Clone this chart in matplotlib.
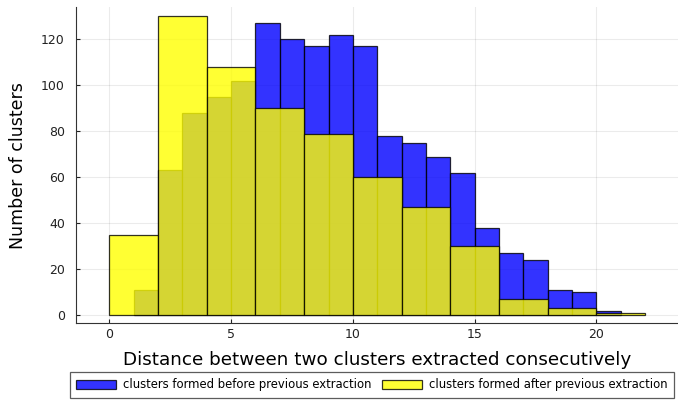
import numpy as np
import matplotlib
matplotlib.use("Agg")
import matplotlib.pyplot as plt

# Histogram counts per bin
before_edges = list(range(1, 22))  # unit-width bins 1..21
before_counts = [11, 63, 88, 95, 102, 127, 120, 117, 122, 117,
                 78, 75, 69, 62, 38, 27, 24, 11, 10, 2]
after_edges = list(range(0, 23, 2))  # width-2 bins 0..22
after_counts = [35, 130, 108, 90, 79, 60, 47, 30, 7, 3, 1]

before_label = "clusters formed before previous extraction"
after_label = "clusters formed after previous extraction"
x_label = "Distance between two clusters extracted consecutively"
y_label = "Number of clusters"
x_ticks = [0, 5, 10, 15, 20]
y_ticks = [0, 20, 40, 60, 80, 100, 120]

fig = plt.figure(figsize=(6.78, 4.01), dpi=100)
ax = fig.add_axes([0.112, 0.194, 0.888, 0.788])

edge_kw = dict(edgecolor=(0, 0, 0, 0.75), linewidth=0.9, align="edge")
ax.bar(before_edges[:-1], before_counts, width=np.diff(before_edges),
       color="blue", alpha=0.8, label=before_label, **edge_kw)
ax.bar(after_edges[:-1], after_counts, width=np.diff(after_edges),
       color="yellow", alpha=0.8, label=after_label, **edge_kw)

ax.set_xlim(-1.37, 23.35)
ax.set_ylim(-3.5, 134)
ax.set_xticks(x_ticks)
ax.set_yticks(y_ticks)
ax.tick_params(direction="in", length=3, labelsize=9, colors="#222222")
ax.tick_params(axis="y", pad=8)
ax.grid(True, color="black", alpha=0.08, linewidth=0.8)
ax.set_axisbelow(True)
for side in ("top", "right"):
    ax.spines[side].set_visible(False)
for side in ("left", "bottom"):
    ax.spines[side].set_color("#333333")

ax.set_xlabel(x_label, fontsize=13.2, labelpad=7)
ax.set_ylabel(y_label, fontsize=12.5, labelpad=10)

leg = fig.legend(loc="upper left", bbox_to_anchor=(70 / 678, 1 - 372 / 401),
                 ncol=2, fontsize=8.4, frameon=True, fancybox=False,
                 edgecolor="#333333", handlelength=3.4, handleheight=0.87,
                 handletextpad=0.6, columnspacing=0.9, borderpad=0.55,
                 borderaxespad=0)
leg.get_frame().set_linewidth(0.9)

fig.savefig("out.png", dpi=100)
